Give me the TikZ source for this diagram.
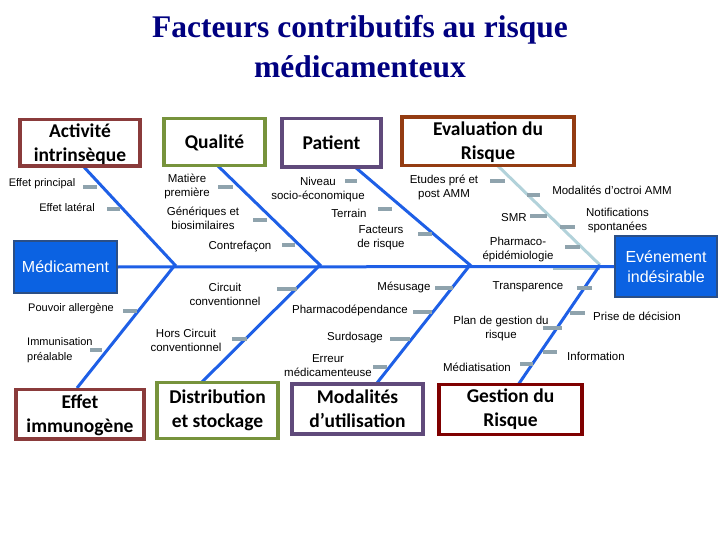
\documentclass[tikz,border=0pt]{standalone}
\usepackage{fontspec}
\setmainfont{Liberation Sans}
\newfontfamily\titlefont{Liberation Serif}
\newfontfamily\boxfont{Carlito}
\definecolor{navy}{HTML}{000080}
\definecolor{bonecol}{HTML}{1E5FE6}
\definecolor{lightbone}{HTML}{B2D2DA}
\definecolor{tickcol}{HTML}{8FA3AD}
\definecolor{cmaroon}{HTML}{8A3B3B}
\definecolor{colive}{HTML}{77933C}
\definecolor{cpurple}{HTML}{604A7B}
\definecolor{cbrown}{HTML}{943C12}
\definecolor{cdarkred}{HTML}{7F0000}
\definecolor{cblue}{HTML}{0B62E2}
\definecolor{cblueedge}{HTML}{2B4F86}
\tikzset{
  catbox/.style={draw=#1, line width=3.5pt, fill=white, inner sep=0pt},
  cattext/.style={align=center, inner sep=0pt,
    font=\boxfont\bfseries\fontsize{19.5}{24}\selectfont},
  effbox/.style={draw=cblueedge, line width=2pt, fill=cblue, text=white, align=center, inner sep=0pt,
    font=\fontsize{16}{20}\selectfont},
  bone/.style={draw=bonecol, line width=3pt},
  lbone/.style={draw=lightbone, line width=3pt},
  tick/.style={draw=tickcol, line width=3.5pt},
  lbl/.style={align=center, inner sep=0pt, font=\fontsize{11.5}{14}\selectfont},
  slbl/.style={align=left, inner sep=0pt, font=\fontsize{11}{15}\selectfont}
}
\begin{document}
\begin{tikzpicture}[x=1pt,y=-1pt]
\useasboundingbox (0,0) rectangle (720,540);
% title
\node[align=center, text=navy, font=\titlefont\bfseries\fontsize{31.5}{40}\selectfont] (title) at (360,47)
  {Facteurs contributifs au risque\\médicamenteux};

% junction coordinates
\coordinate (j1) at (175,265);
\coordinate (j2) at (320,265);
\coordinate (j3) at (470,265);
\coordinate (j4) at (600,265);
\coordinate (s1) at (83,166);
\coordinate (s2) at (218,166);
\coordinate (s3) at (355,167);
\coordinate (s4) at (497,165);
\coordinate (e1) at (77,388);
\coordinate (e2) at (202,382);
\coordinate (e3) at (377,383);
\coordinate (e4) at (518,385);
\coordinate (g1) at (553,268.5);
\coordinate (g2) at (600,268.5);

% effect boxes
\node[effbox, minimum width=103pt, minimum height=52pt] (med) at (65.5,267) {Médicament};
\node[effbox, minimum width=102pt, minimum height=61pt] (evt) at (666,266.5) {Evénement\\indésirable};

% spine
\draw[bone] (med.east) -- (evt.west);
\draw[draw=lightbone!80!gray, line width=2pt] (g1) -- (g2);

% bones
\draw[bone] (s1) -- (j1) -- (e1);
\draw[bone] (s2) -- (j2) -- (e2);
\draw[bone] (s3) -- (j3) -- (e3);
\draw[lbone] (s4) -- (j4);
\draw[bone] (j4) -- (e4);

% category boxes
\node[catbox=cmaroon, minimum width=120pt, minimum height=46.5pt] (act) at (80,143) {};
\node[catbox=colive, minimum width=101pt, minimum height=47pt] (qual) at (214.5,142) {};
\node[catbox=cpurple, minimum width=99pt, minimum height=48.5pt] (pat) at (331.5,143) {};
\node[catbox=cbrown, minimum width=172pt, minimum height=48.5pt] (eval) at (488,141.5) {};
\node[catbox=cmaroon, minimum width=128pt, minimum height=49.5pt] (imm) at (80,414) {};
\node[catbox=colive, minimum width=121pt, minimum height=56pt] (dist) at (217.5,410.5) {};
\node[catbox=cpurple, minimum width=131pt, minimum height=50pt] (moda) at (357.5,409) {};
\node[catbox=cdarkred, minimum width=143pt, minimum height=50pt] (gest) at (510.5,409.5) {};

\node[cattext] (actT) at ([yshift=-1pt]act.center) {Activité\\intrinsèque};
\node[cattext] (qualT) at ([yshift=-1pt]qual.center) {Qualité};
\node[cattext] (patT) at (pat.center) {Patient};
\node[cattext] (evalT) at ([yshift=-1pt]eval.center) {Evaluation du\\Risque};
\node[cattext] (immT) at ([yshift=-1pt]imm.center) {Effet\\immunogène};
\node[cattext] (distT) at (dist.center) {Distribution\\et stockage};
\node[cattext] (modaT) at (moda.center) {Modalités\\d’utilisation};
\node[cattext] (gestT) at (gest.center) {Gestion du\\Risque};

% ticks
\draw[tick] (83,187) -- (97,187);
\draw[tick] (107,209) -- (120,209);
\draw[tick] (218,187) -- (233,187);
\draw[tick] (253,220) -- (267,220);
\draw[tick] (282,245) -- (295,245);
\draw[tick] (345,181) -- (357,181);
\draw[tick] (378,209) -- (392,209);
\draw[tick] (418,234) -- (432,234);
\draw[tick] (490,181) -- (505,181);
\draw[tick] (527,195) -- (540,195);
\draw[tick] (530,216) -- (547,216);
\draw[tick] (560,227) -- (575,227);
\draw[tick] (565,247) -- (580,247);
\draw[tick] (123,311) -- (137,311);
\draw[tick] (90,350) -- (102,350);
\draw[tick] (277,289) -- (297,289);
\draw[tick] (232,339) -- (247,339);
\draw[tick] (435,288) -- (453,288);
\draw[tick] (413,312) -- (432,312);
\draw[tick] (390,339) -- (410,339);
\draw[tick] (373,367) -- (387,367);
\draw[tick] (577,288) -- (592,288);
\draw[tick] (570,313) -- (585,313);
\draw[tick] (543,328) -- (562,328);
\draw[tick] (543,352) -- (557,352);
\draw[tick] (520,364) -- (533,364);

% labels
\node[slbl] (l1) at (42,184) {Effet principal};
\node[slbl] (l2) at (67,208) {Effet latéral};
\node[lbl] (l3) at (187,186.5) {Matière\\première};
\node[lbl] (l4) at (203,218) {Génériques et\\biosimilaires};
\node[lbl] (l5) at (240,247) {Contrefaçon};
\node[lbl] (l6) at (318,190) {Niveau\\socio-économique};
\node[lbl] (l7) at (349,213) {Terrain};
\node[lbl] (l8) at (381,237.5) {Facteurs\\de risque};
\node[lbl] (l9) at (444,187) {Etudes pré et\\post AMM};
\node[lbl] (l10) at (612,190) {Modalités d’octroi AMM};
\node[lbl] (l11) at (514,218) {SMR};
\node[lbl] (l12) at (617.5,220.5) {Notifications\\spontanées};
\node[lbl] (l13) at (518,250) {Pharmaco-\\épidémiologie};
\node[slbl] (l14) at (71,309) {Pouvoir allergène};
\node[slbl, anchor=west] (l15) at (27,350.5) {Immunisation\\préalable};
\node[lbl] (l16) at (225,294.5) {Circuit\\conventionnel};
\node[lbl] (l17) at (186,340) {Hors Circuit\\conventionnel};
\node[lbl] (l18) at (404,287) {Mésusage};
\node[lbl] (l19) at (350,310) {Pharmacodépendance};
\node[lbl] (l20) at (355,338) {Surdosage};
\node[lbl] (l21) at (328,366) {Erreur\\médicamenteuse};
\node[lbl] (l22) at (528,287) {Transparence};
\node[lbl] (l23) at (637,316) {Prise de décision};
\node[lbl] (l24) at (501,328.5) {Plan de gestion du\\risque};
\node[lbl] (l25) at (596,356) {Information};
\node[lbl] (l26) at (477,367) {Médiatisation};
\end{tikzpicture}
\end{document}
